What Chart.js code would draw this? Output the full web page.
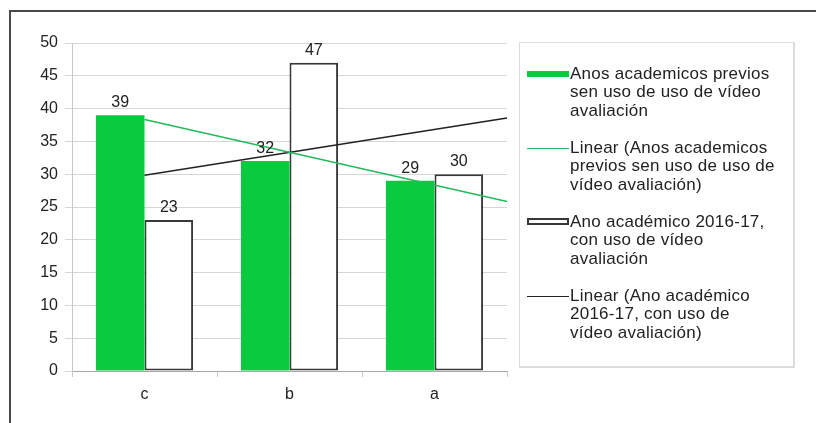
<!DOCTYPE html>
<html lang="gl">
<head>
    <meta charset="UTF-8">
    <title>Vídeo avaliación</title>
    <script src="https://cdn.jsdelivr.net/npm/chart.js@4.4.0/dist/chart.umd.min.js"></script>
    <style>
        html, body { margin: 0; padding: 0; background: #fff; }
        body { width: 816px; height: 423px; position: relative; overflow: hidden;
               font-family: "Liberation Sans", Arial, sans-serif; color: #222; }
        #frame { position: absolute; left: 9px; top: 10px; width: 900px; height: 500px;
                 border-left: 2px solid #4a4a4a; border-top: 2px solid #4a4a4a; }
        #wrap { position: absolute; left: 0; top: 0; width: 816px; height: 423px; }
        .legend { position: absolute; left: 519px; top: 42px; width: 276px; height: 326px;
                  border: 1px solid #dcdcdc; border-right-width: 2px; border-bottom-width: 2px; box-sizing: border-box; }
        .item { position: absolute; left: 50px; font-size: 17px; letter-spacing: 0.25px; line-height: 18.3px; white-space: nowrap; }
        .sw { position: absolute; left: -43px; width: 42px; }
    </style>
</head>
<body>
    <div id="frame"></div>
    <div id="wrap"><canvas id="chart" width="816" height="423"></canvas></div>

    <!-- Legend -->
    <div class="legend">
        <div class="item" style="top: 22px;">
            <span class="sw" style="top: 6px; height: 6px; background: #0acb3f;"></span>
            Anos academicos previos<br>sen uso de uso de vídeo<br>avaliación
        </div>
        <div class="item" style="top: 96px;">
            <span class="sw" style="top: 9px; height: 0; border-top: 1.5px solid #22bb5a;"></span>
            Linear (Anos academicos<br>previos sen uso de uso de<br>vídeo avaliación)
        </div>
        <div class="item" style="top: 170px;">
            <span class="sw" style="top: 5px; height: 7px; border: 2px solid #383838; box-sizing: border-box; background: #fff;"></span>
            Ano académico 2016-17,<br>con uso de vídeo<br>avaliación
        </div>
        <div class="item" style="top: 244px;">
            <span class="sw" style="top: 9px; height: 0; border-top: 1.5px solid #222;"></span>
            Linear (Ano académico<br>2016-17, con uso de<br>vídeo avaliación)
        </div>
    </div>

    <script>
        // Categories and series
        const categories = ['c', 'b', 'a'];
        const previousYears = [39, 32, 29];
        const year2016 = [23, 47, 30];
        const yTicks = [0, 5, 10, 15, 20, 25, 30, 35, 40, 45, 50];

        // Least squares trend over the category index, from x0 to x1
        function trendPoints(values, x0, x1) {
            const n = values.length;
            let sx = 0, sy = 0, sxy = 0, sxx = 0;
            values.forEach((v, i) => { sx += i; sy += v; sxy += i * v; sxx += i * i; });
            const slope = (n * sxy - sx * sy) / (n * sxx - sx * sx);
            const intercept = (sy - slope * sx) / n;
            return [{ x: x0, y: intercept + slope * x0 }, { x: x1, y: intercept + slope * x1 }];
        }

        const font = "'Liberation Sans', Arial, sans-serif";

        // Value labels above each bar
        const barValues = {
            id: 'barValues',
            afterDatasetsDraw(chart) {
                const ctx = chart.ctx;
                ctx.save();
                ctx.font = '16px ' + font;
                ctx.fillStyle = '#222';
                ctx.textAlign = 'center';
                ctx.textBaseline = 'alphabetic';
                chart.data.datasets.forEach((ds, di) => {
                    if (ds.type !== 'bar') return;
                    chart.getDatasetMeta(di).data.forEach((bar, i) => {
                        ctx.fillText(String(ds.data[i]), bar.x, bar.y - 8);
                    });
                });
                ctx.restore();
            }
        };

        const ctx = document.getElementById('chart').getContext('2d');
        new Chart(ctx, {
            type: 'bar',
            data: {
                labels: categories,
                datasets: [
                    {
                        type: 'bar',
                        label: 'Anos academicos previos sen uso de uso de vídeo avaliación',
                        data: previousYears,
                        backgroundColor: '#0acb3f',
                        borderWidth: 0,
                        order: 2
                    },
                    {
                        type: 'bar',
                        label: 'Ano académico 2016-17, con uso de vídeo avaliación',
                        data: year2016,
                        backgroundColor: '#ffffff',
                        borderColor: '#383838',
                        borderWidth: 2,
                        borderSkipped: false,
                        order: 2
                    },
                    {
                        // trend lines run from the first category centre to the right edge
                        type: 'line',
                        label: 'Linear (Anos academicos previos sen uso de uso de vídeo avaliación)',
                        data: trendPoints(previousYears, 0, categories.length - 0.5),
                        parsing: false,
                        borderColor: '#22bb5a',
                        borderWidth: 1.5,
                        pointRadius: 0,
                        order: 1
                    },
                    {
                        type: 'line',
                        label: 'Linear (Ano académico 2016-17, con uso de vídeo avaliación)',
                        data: trendPoints(year2016, 0, categories.length - 0.5),
                        parsing: false,
                        borderColor: '#222',
                        borderWidth: 1.5,
                        pointRadius: 0,
                        order: 1
                    }
                ]
            },
            options: {
                responsive: false,
                animation: false,
                layout: { padding: { left: 0, top: 43, right: 309, bottom: 0 } },
                plugins: { legend: { display: false }, tooltip: { enabled: false } },
                datasets: { bar: { categoryPercentage: 0.67, barPercentage: 1 } },
                scales: {
                    x: {
                        type: 'category',
                        offset: true,
                        grid: { drawOnChartArea: false, tickLength: 6, color: '#c8c8c8' },
                        border: { color: '#a8a8a8' },
                        ticks: { color: '#222', font: { family: font, size: 16 }, padding: 8 },
                        afterFit: s => { s.height = 52; }
                    },
                    y: {
                        min: 0,
                        max: 50,
                        afterBuildTicks: s => { s.ticks = yTicks.map(v => ({ value: v })); },
                        grid: { color: '#d6d6d6', tickLength: 7 },
                        border: { color: '#c8c8c8' },
                        ticks: { color: '#222', font: { family: font, size: 16 }, padding: 7 },
                        afterFit: s => { s.width = 72; }
                    }
                }
            },
            plugins: [barValues]
        });
    </script>
</body>
</html>
